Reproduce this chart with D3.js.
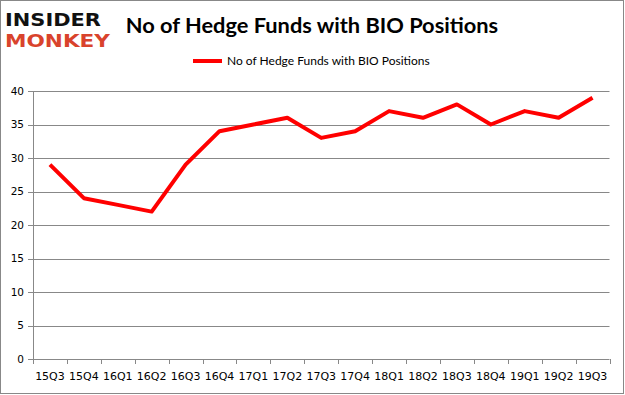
<!DOCTYPE html>
<html>
<head>
<meta charset="utf-8">
<script src="https://cdn.jsdelivr.net/npm/d3@7"></script>
<style>
  body { margin: 0; background: #fff; }
  svg { display: block; }
</style>
</head>
<body>
<svg id="chart" width="625" height="395"></svg>
<script>
const quarters = ["15Q3", "15Q4", "16Q1", "16Q2", "16Q3", "16Q4", "17Q1", "17Q2", "17Q3",
  "17Q4", "18Q1", "18Q2", "18Q3", "18Q4", "19Q1", "19Q2", "19Q3"];
const funds = [29, 24, 23, 22, 29, 34, 35, 36, 33, 34, 37, 36, 38, 35, 37, 36, 39];
const yTicks = [0, 5, 10, 15, 20, 25, 30, 35, 40];
const seriesName = "No of Hedge Funds with BIO Positions";
const titleText = "No of Hedge Funds with BIO Positions";

const svg = d3.select("#chart");
const width = +svg.attr("width");
const height = +svg.attr("height");

const plot = { left: 33, right: 609.5, top: 91, bottom: 359 };

// outer frame
svg.append("rect")
  .attr("x", 0.5).attr("y", 0.5)
  .attr("width", width - 2).attr("height", height - 2)
  .attr("fill", "#fff")
  .attr("stroke", "#888");

const x = d3.scaleBand()
  .domain(quarters)
  .range([plot.left, plot.right]);

const y = d3.scaleLinear()
  .domain([0, 40])
  .range([plot.bottom, plot.top]);

// gridlines
svg.append("g")
  .selectAll("line")
  .data(yTicks)
  .join("line")
  .attr("x1", plot.left - 5)
  .attr("x2", plot.right)
  .attr("y1", d => Math.round(y(d)) + 0.5)
  .attr("y2", d => Math.round(y(d)) + 0.5)
  .attr("stroke", "#888")
  .attr("stroke-width", 1);

// y axis line
svg.append("line")
  .attr("x1", plot.left + 0.5).attr("x2", plot.left + 0.5)
  .attr("y1", plot.top).attr("y2", plot.bottom)
  .attr("stroke", "#888");

// y labels
svg.append("g")
  .selectAll("text")
  .data(yTicks)
  .join("text")
  .attr("x", plot.left - 9)
  .attr("y", d => y(d))
  .attr("dy", "0.35em")
  .attr("text-anchor", "end")
  .attr("font-family", "DejaVu Sans")
  .attr("font-size", 10.5)
  .attr("fill", "#000")
  .text(d => d);

// x ticks
const tickPos = quarters.map(q => x(q)).concat([plot.right]);
svg.append("g")
  .selectAll("line")
  .data(tickPos)
  .join("line")
  .attr("x1", d => Math.round(d) + 0.5)
  .attr("x2", d => Math.round(d) + 0.5)
  .attr("y1", plot.bottom)
  .attr("y2", plot.bottom + 5)
  .attr("stroke", "#888");

// x labels
svg.append("g")
  .selectAll("text")
  .data(quarters)
  .join("text")
  .attr("x", d => x(d) + x.bandwidth() / 2)
  .attr("y", 380)
  .attr("text-anchor", "middle")
  .attr("font-family", "DejaVu Sans")
  .attr("font-size", 11)
  .attr("fill", "#000")
  .text(d => d);

// series line
const line = d3.line()
  .x((d, i) => x(quarters[i]) + x.bandwidth() / 2)
  .y(d => y(d));

svg.append("path")
  .datum(funds)
  .attr("fill", "none")
  .attr("stroke", "#ff0000")
  .attr("stroke-width", 4)
  .attr("stroke-linejoin", "round")
  .attr("d", line);

// title
svg.append("text")
  .attr("x", 312)
  .attr("y", 33)
  .attr("text-anchor", "middle")
  .attr("font-family", "Lato")
  .attr("font-weight", "bold")
  .attr("font-size", 21.8)
  .attr("fill", "#000")
  .text(titleText);

// legend
svg.append("line")
  .attr("x1", 193).attr("x2", 222)
  .attr("y1", 61).attr("y2", 61)
  .attr("stroke", "#ff0000")
  .attr("stroke-width", 4);

svg.append("text")
  .attr("x", 227)
  .attr("y", 65)
  .attr("font-family", "Lato")
  .attr("font-size", 12)
  .attr("fill", "#000")
  .text(seriesName);

// logo
svg.append("text")
  .attr("x", 5).attr("y", 26)
  .attr("font-family", "DejaVu Sans")
  .attr("font-weight", "bold")
  .attr("font-size", 18)
  .attr("textLength", 96)
  .attr("lengthAdjust", "spacingAndGlyphs")
  .attr("fill", "#111")
  .text("INSIDER");

svg.append("text")
  .attr("x", 5).attr("y", 47)
  .attr("font-family", "DejaVu Sans")
  .attr("font-weight", "bold")
  .attr("font-size", 18)
  .attr("textLength", 105)
  .attr("lengthAdjust", "spacingAndGlyphs")
  .attr("fill", "#d9432c")
  .text("MONKEY");
</script>
</body>
</html>
